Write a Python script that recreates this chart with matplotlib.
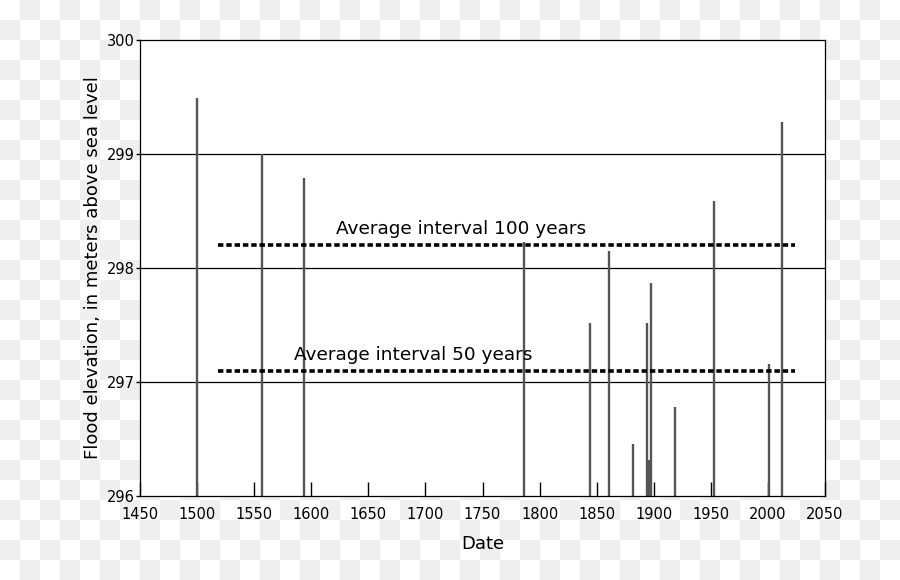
import numpy as np
import matplotlib.pyplot as plt

# flood peaks (year, elevation in m)
years = [1500, 1557, 1594, 1786, 1844, 1861, 1882, 1894, 1896, 1897, 1898, 1919, 1953, 2001, 2012]
levels = [299.49, 299.0, 298.79, 298.23, 297.52, 298.15, 296.46, 297.52, 296.32, 296.32, 297.87, 296.78, 298.59, 297.16, 299.28]

# average-interval lines
avg_start, avg_end = 1518, 2024
avg_100 = 298.2
avg_50 = 297.1

fig = plt.figure(figsize=(9, 5.8), dpi=100)

# transparency-style checkerboard behind everything
bg = fig.add_axes([0, 0, 1, 1], zorder=-10)
r = np.arange(580)[:, None] // 20
c = np.arange(900)[None, :] // 20
board = np.where((r + c) % 2 == 1, 0.937, 1.0)
bg.imshow(board, cmap='gray', vmin=0, vmax=1, aspect='auto', interpolation='nearest')
bg.axis('off')

ax = fig.add_axes([140/900, 1 - 496/580, 685/900, 456/580], zorder=1)
ax.set_facecolor('white')

for y in [297, 298, 299]:
    ax.axhline(y, color='black', lw=0.9, zorder=1)

ax.vlines(years, 296, levels, colors='#555555', lw=1.7, zorder=2)

ax.plot([avg_start, avg_end], [avg_100, avg_100], color='black', lw=2.6,
        dashes=(1.5, 0.8), zorder=3)
ax.plot([avg_start, avg_end], [avg_50, avg_50], color='black', lw=2.6,
        dashes=(1.5, 0.8), zorder=3)
ax.text(1731, avg_100 + 0.06, 'Average interval 100 years', fontsize=13.3,
        ha='center', va='bottom')
ax.text(1689, avg_50 + 0.06, 'Average interval 50 years', fontsize=13.3,
        ha='center', va='bottom')

ax.set_xlim(1450, 2050)
ax.set_ylim(296, 300)
ax.set_xticks(np.arange(1450, 2051, 50))
ax.set_yticks([296, 297, 298, 299, 300])
ax.tick_params(axis='x', direction='in', length=10, width=1, labelsize=10.5, pad=8)
ax.tick_params(axis='y', direction='out', length=3, width=1, labelsize=10.5, pad=0.5)
for s in ax.spines.values():
    s.set_linewidth(0.9)

ax.set_xlabel('Date', fontsize=13, labelpad=9)
ax.set_ylabel('Flood elevation, in meters above sea level', fontsize=13, labelpad=4)

fig.savefig('out.png', dpi=100)
